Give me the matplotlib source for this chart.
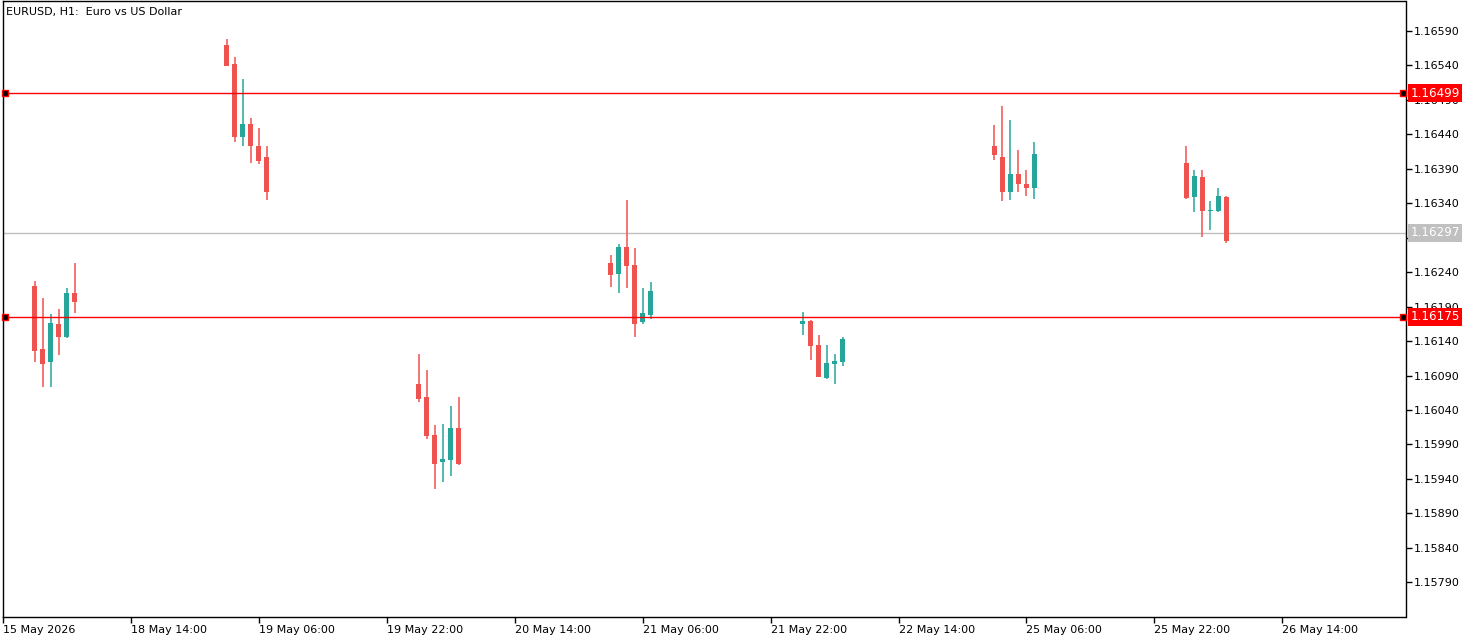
import matplotlib
matplotlib.use("Agg")
import matplotlib.pyplot as plt
import numpy as np

# bar index of every candle (8 px per bar, clusters of 6)
bar_idx = [4, 5, 6, 7, 8, 9,
           28, 29, 30, 31, 32, 33,
           52, 53, 54, 55, 56, 57,
           76, 77, 78, 79, 80, 81,
           100, 101, 102, 103, 104, 105,
           124, 125, 126, 127, 128, 129,
           148, 149, 150, 151, 152, 153]

opens = [1.16220, 1.16129, 1.16110, 1.16165, 1.16146, 1.16210,
         1.16569, 1.16541, 1.16435, 1.16454, 1.16423, 1.16406,
         1.16078, 1.16059, 1.16004, 1.15964, 1.15968, 1.16014,
         1.16253, 1.16237, 1.16276, 1.16250, 1.16168, 1.16178,
         1.16165, 1.16169, 1.16134, 1.16087, 1.16107, 1.16110,
         1.16423, 1.16407, 1.16356, 1.16382, 1.16368, 1.16362,
         1.16398, 1.16349, 1.16378, 1.16328, 1.16328, 1.16349]
highs = [1.16227, 1.16203, 1.16179, 1.16186, 1.16217, 1.16253,
         1.16578, 1.16552, 1.16520, 1.16463, 1.16449, 1.16423,
         1.16121, 1.16098, 1.16018, 1.16020, 1.16046, 1.16059,
         1.16265, 1.16280, 1.16344, 1.16275, 1.16217, 1.16226,
         1.16182, 1.16170, 1.16149, 1.16134, 1.16121, 1.16146,
         1.16453, 1.16481, 1.16460, 1.16417, 1.16388, 1.16428,
         1.16423, 1.16388, 1.16388, 1.16343, 1.16362, 1.16350]
lows = [1.16110, 1.16073, 1.16073, 1.16120, 1.16145, 1.16181,
        1.16538, 1.16429, 1.16422, 1.16398, 1.16397, 1.16345,
        1.16052, 1.15998, 1.15926, 1.15935, 1.15945, 1.15961,
        1.16218, 1.16210, 1.16217, 1.16146, 1.16165, 1.16172,
        1.16149, 1.16113, 1.16088, 1.16085, 1.16077, 1.16104,
        1.16403, 1.16343, 1.16345, 1.16356, 1.16350, 1.16346,
        1.16346, 1.16327, 1.16291, 1.16301, 1.16327, 1.16282]
closes = [1.16126, 1.16107, 1.16166, 1.16146, 1.16210, 1.16197,
          1.16539, 1.16436, 1.16454, 1.16423, 1.16401, 1.16356,
          1.16056, 1.16003, 1.15962, 1.15969, 1.16014, 1.15962,
          1.16236, 1.16276, 1.16249, 1.16165, 1.16181, 1.16212,
          1.16169, 1.16133, 1.16088, 1.16108, 1.16111, 1.16143,
          1.16409, 1.16356, 1.16382, 1.16367, 1.16362, 1.16411,
          1.16347, 1.16379, 1.16328, 1.16330, 1.16350, 1.16285]

x_tick_pos = [0, 16, 32, 48, 64, 80, 96, 112, 128, 144, 160]
x_tick_labels = ["15 May 2026", "18 May 14:00", "19 May 06:00", "19 May 22:00",
                 "20 May 14:00", "21 May 06:00", "21 May 22:00", "22 May 14:00",
                 "25 May 06:00", "25 May 22:00", "26 May 14:00"]
y_ticks = [1.16590, 1.16540, 1.16490, 1.16440, 1.16390, 1.16340, 1.16290,
           1.16240, 1.16190, 1.16140, 1.16090, 1.16040, 1.15990, 1.15940,
           1.15890, 1.15840, 1.15790]

red_levels = [1.16499, 1.16175]
bid_level = 1.16297

UP = "#26a69a"
DOWN = "#ef5350"
FS = 8.0

W, H = 1475, 641
fig = plt.figure(figsize=(W / 100, H / 100), dpi=100)
ax = fig.add_axes([2.5 / W, 1 - 616.5 / H, (1405.5 - 2.5) / W, (616.5 - 1) / H])

# candles
for i in range(len(bar_idx)):
    o, h, l, c = opens[i], highs[i], lows[i], closes[i]
    col = UP if c >= o else DOWN
    ax.vlines(bar_idx[i], l, h, color=col, linewidth=1.1)
    body = max(abs(c - o), 0.000012)
    ax.bar(bar_idx[i], body, bottom=min(o, c), width=0.62, color=col,
           linewidth=0)

# horizontal levels
ax.axhline(bid_level, color="#c0c0c0", linewidth=1.0, zorder=0)
yt = ax.get_yaxis_transform()
for lv in red_levels:
    ax.axhline(lv, color="#ff0000", linewidth=1.0, zorder=3)
    ax.plot([0.0018, 0.9982], [lv, lv], transform=yt, linestyle="none",
            marker="s", markersize=4, markerfacecolor="black",
            markeredgecolor="#ff0000", markeredgewidth=1, zorder=4,
            clip_on=False)

ax.set_xlim(-0.05, 175.4)
ax.set_ylim(1.157407, 1.166328)

# axis styling
for s in ["left", "right", "top", "bottom"]:
    ax.spines[s].set_linewidth(1.0)
    ax.spines[s].set_color("black")

ax.set_xticks(x_tick_pos)
ax.set_xticklabels(x_tick_labels, ha="left", fontsize=FS)
ax.tick_params(axis="x", direction="out", length=4, width=1, pad=2)

ax.yaxis.tick_right()
ax.set_yticks(y_ticks)
ax.set_yticklabels(["%.5f" % v for v in y_ticks], fontsize=FS)
ax.tick_params(axis="y", direction="out", length=4, width=1, pad=2)

# price labels on the right scale
for lv, bg in [(red_levels[0], "#ff0000"), (red_levels[1], "#ff0000"),
               (bid_level, "#c0c0c0")]:
    ax.text(1.0 + 5 / 1403, lv, "%.5f" % lv, transform=yt, ha="left",
            va="center", color="white", fontsize=FS + 0.6, zorder=6,
            bbox=dict(boxstyle="square,pad=0.2", facecolor=bg,
                      edgecolor="none"))

fig.text(6 / W, 1 - 12 / H, "EURUSD, H1:  Euro vs US Dollar", fontsize=FS,
         ha="left", va="center")

fig.savefig("out.png", dpi=100)
